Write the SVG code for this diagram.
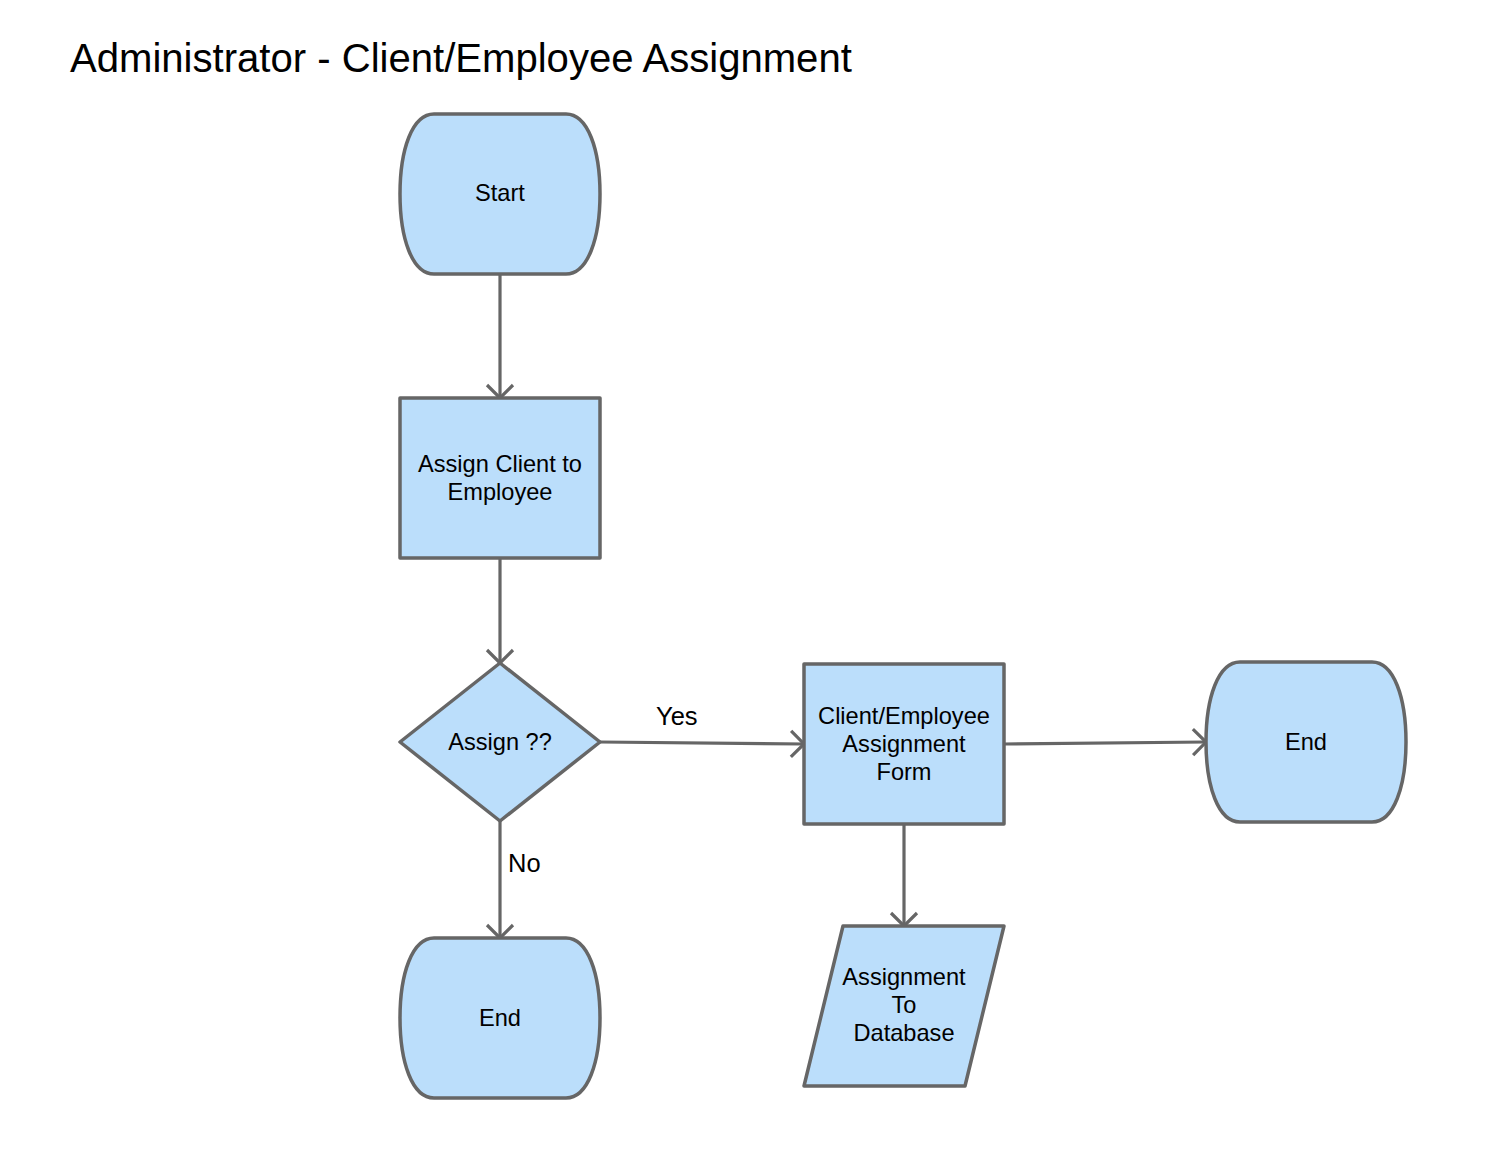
<svg xmlns="http://www.w3.org/2000/svg" width="1490" height="1154" viewBox="0 0 1490 1154">
<style>
.n{fill:#bbdefb;stroke:#666;stroke-width:3.5;stroke-linejoin:round}
.t{font-family:"Liberation Sans",Arial,sans-serif;font-size:23.6px;fill:#000;text-anchor:middle}
.l{font-family:"Liberation Sans",Arial,sans-serif;font-size:25.5px;fill:#000}
.c{fill:none;stroke:#666;stroke-width:3.2}
</style>
<defs>
<marker id="ah" markerUnits="userSpaceOnUse" viewBox="-16 -16 20 32" refX="0" refY="0" markerWidth="20" markerHeight="32" orient="auto">
<path d="M-13,-13 L0,0 L-13,13" fill="none" stroke="#666" stroke-width="3.2"/>
</marker>
</defs>
<rect width="1490" height="1154" fill="#fff"/>
<text x="70" y="72" font-family="'Liberation Sans',Arial,sans-serif" font-size="40.1" fill="#000">Administrator - Client/Employee Assignment</text>
<g id="connectors">
<path class="c" d="M500,274 L500,398" marker-end="url(#ah)"/>
<path class="c" d="M500,558 L500,663" marker-end="url(#ah)"/>
<path class="c" d="M600,742 L804,744" marker-end="url(#ah)"/>
<path class="c" d="M1004,744 L1206,742" marker-end="url(#ah)"/>
<path class="c" d="M904,824 L904,926" marker-end="url(#ah)"/>
<path class="c" d="M500,821 L500,938" marker-end="url(#ah)"/>
<text class="l" x="656" y="725">Yes</text>
<text class="l" x="508" y="872">No</text>
</g>
<g id="start">
<path class="n" d="M434,114 L566,114 C588,114 600,150 600,194 C600,238 588,274 566,274 L434,274 C412,274 400,238 400,194 C400,150 412,114 434,114 Z"/>
<text class="t" x="500" y="201">Start</text>
</g>
<g id="assign">
<rect class="n" x="400" y="398" width="200" height="160"/>
<text class="t" x="500" y="472">Assign Client to</text>
<text class="t" x="500" y="500">Employee</text>
</g>
<g id="decision">
<polygon class="n" points="500,663 600,742 500,821 400,742"/>
<text class="t" x="500" y="750">Assign ??</text>
</g>
<g id="form">
<rect class="n" x="804" y="664" width="200" height="160"/>
<text class="t" x="904" y="724">Client/Employee</text>
<text class="t" x="904" y="752">Assignment</text>
<text class="t" x="904" y="780">Form</text>
</g>
<g id="end-right">
<path class="n" d="M1240,662 L1372,662 C1394,662 1406,698 1406,742 C1406,786 1394,822 1372,822 L1240,822 C1218,822 1206,786 1206,742 C1206,698 1218,662 1240,662 Z"/>
<text class="t" x="1306" y="750">End</text>
</g>
<g id="end-bottom">
<path class="n" d="M434,938 L566,938 C588,938 600,974 600,1018 C600,1062 588,1098 566,1098 L434,1098 C412,1098 400,1062 400,1018 C400,974 412,938 434,938 Z"/>
<text class="t" x="500" y="1026">End</text>
</g>
<g id="database">
<polygon class="n" points="843,926 1004,926 965,1086 804,1086"/>
<text class="t" x="904" y="985">Assignment</text>
<text class="t" x="904" y="1013">To</text>
<text class="t" x="904" y="1041">Database</text>
</g>
</svg>
